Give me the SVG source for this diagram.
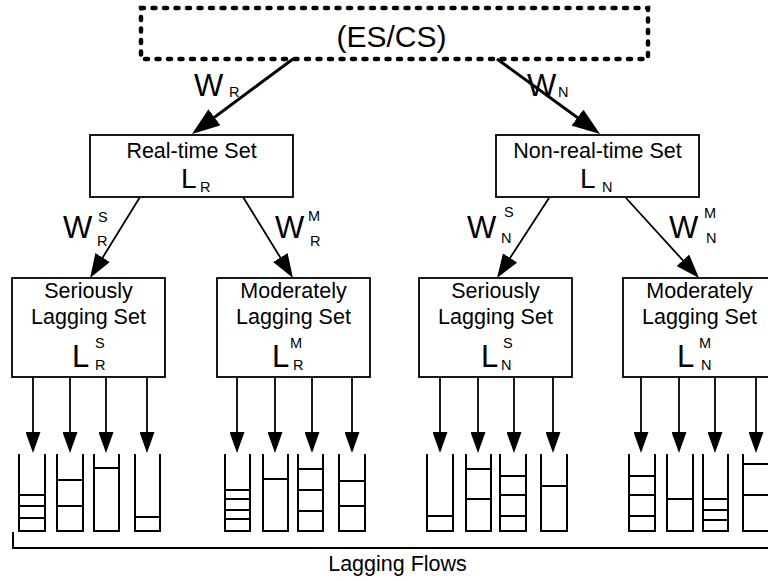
<svg xmlns="http://www.w3.org/2000/svg" width="768" height="581" viewBox="0 0 768 581">
<style>
text{font-family:"Liberation Sans",Arial,sans-serif;fill:#000}
.lbl{font-size:21.5px;text-anchor:middle}
.big{font-size:31px}
.L1{font-size:28px}
.L2{font-size:31px}
.s{font-size:14.5px}
.box{fill:#fff;stroke:#000;stroke-width:1.8}
.q{fill:none;stroke:#000;stroke-width:2}
.c1{stroke:#000;stroke-width:3;fill:none}
.c2{stroke:#000;stroke-width:1.8;fill:none}
</style>
<defs>
<marker id="ah1" viewBox="0 0 28 20" refX="22" refY="10" markerWidth="28" markerHeight="20" markerUnits="userSpaceOnUse" orient="auto"><path d="M0,0 L28,10 L0,20 z" fill="#000"/></marker>
<marker id="ah2" viewBox="0 0 24 17" refX="18" refY="8.5" markerWidth="24" markerHeight="17" markerUnits="userSpaceOnUse" orient="auto"><path d="M0,0 L24,8.5 L0,17 z" fill="#000"/></marker>
<marker id="ah3" viewBox="0 0 21 15" refX="15" refY="7.5" markerWidth="21" markerHeight="15" markerUnits="userSpaceOnUse" orient="auto"><path d="M0,0 L21,7.5 L0,15 z" fill="#000"/></marker>
</defs>
<rect width="768" height="581" fill="#fff"/>

<g id="connectors">
<line class="c1" x1="293" y1="59" x2="196.8" y2="130.4" marker-end="url(#ah1)"/>
<line class="c1" x1="497" y1="59" x2="595.2" y2="130.5" marker-end="url(#ah1)"/>
<line class="c2" x1="140" y1="197" x2="93.2" y2="272.9" marker-end="url(#ah2)"/>
<line class="c2" x1="243" y1="197" x2="289.8" y2="272.9" marker-end="url(#ah2)"/>
<line class="c2" x1="549" y1="198" x2="500.3" y2="273" marker-end="url(#ah2)"/>
<line class="c2" x1="626" y1="198" x2="695" y2="273.6" marker-end="url(#ah2)"/>
<g class="c2">
<line x1="33" y1="377" x2="33" y2="447" marker-end="url(#ah3)"/>
<line x1="70" y1="377" x2="70" y2="447" marker-end="url(#ah3)"/>
<line x1="106" y1="377" x2="106" y2="447" marker-end="url(#ah3)"/>
<line x1="147" y1="377" x2="147" y2="447" marker-end="url(#ah3)"/>
<line x1="237" y1="377" x2="237" y2="447" marker-end="url(#ah3)"/>
<line x1="275" y1="377" x2="275" y2="447" marker-end="url(#ah3)"/>
<line x1="312" y1="377" x2="312" y2="447" marker-end="url(#ah3)"/>
<line x1="352" y1="377" x2="352" y2="447" marker-end="url(#ah3)"/>
<line x1="440" y1="377" x2="440" y2="447" marker-end="url(#ah3)"/>
<line x1="478" y1="377" x2="478" y2="447" marker-end="url(#ah3)"/>
<line x1="514" y1="377" x2="514" y2="447" marker-end="url(#ah3)"/>
<line x1="553" y1="377" x2="553" y2="447" marker-end="url(#ah3)"/>
<line x1="641" y1="377" x2="641" y2="447" marker-end="url(#ah3)"/>
<line x1="679" y1="377" x2="679" y2="447" marker-end="url(#ah3)"/>
<line x1="715" y1="377" x2="715" y2="447" marker-end="url(#ah3)"/>
<line x1="756" y1="377" x2="756" y2="447" marker-end="url(#ah3)"/>
</g>
<text class="big" x="194" y="96">W</text><text class="s" x="229" y="97">R</text>
<text class="big" x="527" y="96">W</text><text class="s" x="558" y="97">N</text>
<text class="big" x="63" y="238">W</text><text class="s" x="98" y="222">S</text><text class="s" x="97" y="246">R</text>
<text class="big" x="275" y="238">W</text><text class="s" x="308" y="221">M</text><text class="s" x="310" y="246">R</text>
<text class="big" x="467" y="238">W</text><text class="s" x="504" y="217">S</text><text class="s" x="501" y="243">N</text>
<text class="big" x="669" y="238">W</text><text class="s" x="704" y="218">M</text><text class="s" x="706" y="243">N</text>
</g>

<g id="escs">
<rect x="141" y="8" width="507" height="51" fill="none" stroke="#000" stroke-width="4.5" stroke-linecap="round" stroke-dasharray="3 8.5"/>
<text x="391.5" y="47" font-size="30" text-anchor="middle">(ES/CS)</text>
</g>

<g id="realtime">
<rect class="box" x="90" y="135" width="203" height="62"/>
<text class="lbl" x="191.5" y="158">Real-time Set</text>
<text class="L1" x="181" y="188">L</text><text class="s" x="200" y="192">R</text>
</g>
<g id="nonrealtime">
<rect class="box" x="496" y="135" width="203" height="62"/>
<text class="lbl" x="597.5" y="158">Non-real-time Set</text>
<text class="L1" x="580" y="188">L</text><text class="s" x="602" y="192">N</text>
</g>

<g id="seriously-r">
<rect class="box" x="12" y="278" width="153" height="99"/>
<text class="lbl" x="88.5" y="298">Seriously</text>
<text class="lbl" x="88.5" y="324">Lagging Set</text>
<text class="L2" x="72" y="367">L</text><text class="s" x="95" y="348">S</text><text class="s" x="95" y="370">R</text>
</g>
<g id="moderately-r">
<rect class="box" x="217" y="278" width="153" height="99"/>
<text class="lbl" x="293.5" y="298">Moderately</text>
<text class="lbl" x="293.5" y="324">Lagging Set</text>
<text class="L2" x="272" y="367">L</text><text class="s" x="290" y="348">M</text><text class="s" x="293" y="370">R</text>
</g>
<g id="seriously-n">
<rect class="box" x="419" y="278" width="153" height="99"/>
<text class="lbl" x="495.5" y="298">Seriously</text>
<text class="lbl" x="495.5" y="324">Lagging Set</text>
<text class="L2" x="481" y="367">L</text><text class="s" x="503" y="348">S</text><text class="s" x="501" y="370">N</text>
</g>
<g id="moderately-n">
<rect class="box" x="623" y="278" width="153" height="99"/>
<text class="lbl" x="699.5" y="298">Moderately</text>
<text class="lbl" x="699.5" y="324">Lagging Set</text>
<text class="L2" x="677" y="367">L</text><text class="s" x="699" y="348">M</text><text class="s" x="701" y="370">N</text>
</g>

<g id="queues" class="q">
<path d="M19 454V531H45V454M19 495H45M19 506H45M19 518H45"/>
<path d="M57 454V531H83V454M57 480H83M57 506H83"/>
<path d="M94 454V531H119V454M94 468H119"/>
<path d="M135 454V531H160V454M135 517H160"/>
<path d="M225 454V531H250V454M225 490H250M225 499H250M225 510H250M225 519H250"/>
<path d="M263 454V531H288V454M263 479H288"/>
<path d="M298 454V531H323V454M298 469H323M298 490H323M298 511H323"/>
<path d="M339 454V531H365V454M339 481H365M339 506H365"/>
<path d="M427 454V531H453V454M427 516H453"/>
<path d="M466 454V531H491V454M466 469H491M466 499H491"/>
<path d="M500 454V531H526V454M500 476H526M500 495H526M500 516H526"/>
<path d="M541 454V531H567V454M541 486H567"/>
<path d="M629 454V531H655V454M629 476H655M629 495H655M629 516H655"/>
<path d="M667 454V531H693V454M667 499H693"/>
<path d="M703 454V531H728V454M703 499H728M703 510H728M703 520H728"/>
<path d="M743 454V531H769V454M743 464H769M743 495H769"/>
</g>

<g id="lagging-flows">
<path d="M13 532V548H768" fill="none" stroke="#000" stroke-width="2"/>
<text class="lbl" x="397.5" y="571">Lagging Flows</text>
</g>
</svg>
